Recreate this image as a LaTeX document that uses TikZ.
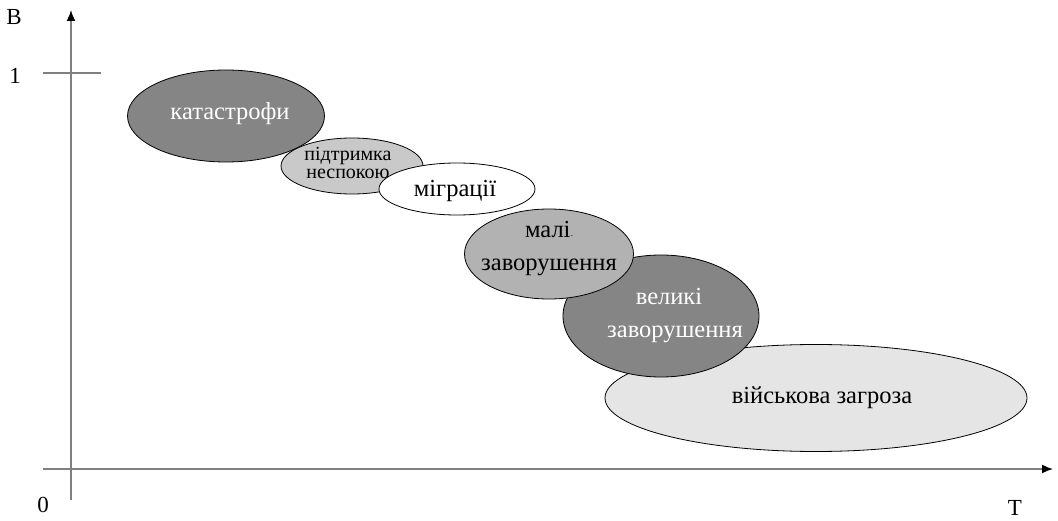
\documentclass[tikz,border=0pt]{standalone}
\usepackage{fontspec}
\setmainfont{Liberation Serif}
\usetikzlibrary{shapes.geometric,arrows.meta}

\definecolor{darkfill}{gray}{0.52}
\definecolor{midfill}{gray}{0.70}
\definecolor{lightfill}{gray}{0.79}
\definecolor{paler}{gray}{0.90}

\tikzset{
  blob/.style={draw, ellipse, line width=0.8pt, inner sep=0pt},
  txt/.style={inner sep=0pt, align=center, font=\fontsize{24.5}{33}\selectfont},
  axis/.style={draw=gray, line width=1.6pt},
  lbl/.style={inner sep=0pt, font=\fontsize{23}{24}\selectfont},
}

\begin{document}
\begin{tikzpicture}[x=1pt,y=-1pt]
        \useasboundingbox (0,0) rectangle (1058,521);
        % axes
        \coordinate (y_bot) at (71,500);
        \coordinate (y_top) at (71,10);
        \coordinate (x_left) at (43,469);
        \coordinate (x_right) at (1053,469);
        \coordinate (tick_l) at (43,73);
        \coordinate (tick_r) at (101,73);
        \draw[axis, -{Latex[black,length=11pt,width=9pt]}] (y_bot) -- (y_top);
        \draw[axis, -{Latex[black,length=11pt,width=9pt]}] (x_left) -- (x_right);
        \draw[axis] (tick_l) -- (tick_r);
        \node[lbl] (lab_b) at (14,17) {B};
        \node[lbl] (lab_one) at (15,76) {1};
        \node[lbl] (lab_zero) at (43,505) {0};
        \node[lbl] (lab_t) at (1015,508) {T};
        % regions
        \node[blob, fill=paler, minimum width=422pt, minimum height=107pt] (mil) at (816,398) {};
        \node[txt] (mil_txt) at (822,398) {військова загроза};
        \node[blob, fill=darkfill, minimum width=196pt, minimum height=122pt] (large) at (661,316) {};
        \node[txt, text=white] (large_txt) at (675,316) {\hspace{-12pt}великі\\заворушення};
        \node[blob, fill=midfill, minimum width=169pt, minimum height=90pt] (small) at (549,254) {};
        \node[txt] (small_txt) at (549,249) {малі{\scriptsize-}\\заворушення};
        \node[blob, fill=darkfill, minimum width=197pt, minimum height=92pt] (cat) at (226,116) {};
        \node[txt, text=white] (cat_txt) at (230,114) {катастрофи};
        \node[blob, fill=lightfill, minimum width=142pt, minimum height=56pt] (supp) at (352,166) {};
        \node[txt, font=\fontsize{20}{18.5}\selectfont] (supp_txt) at (348,163) {підтримка\\неспокою};
        \node[blob, fill=white, minimum width=156pt, minimum height=52pt] (migr) at (457,189) {};
        \node[txt] (migr_txt) at (455,191) {міграції};
\end{tikzpicture}
\end{document}
